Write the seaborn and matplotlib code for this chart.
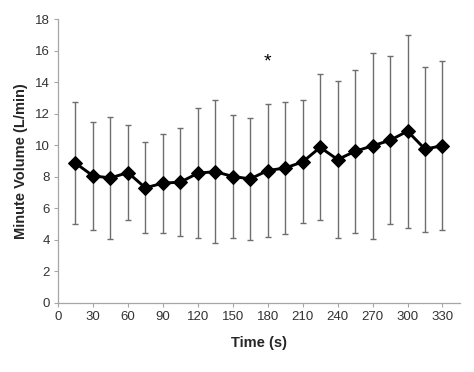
import numpy as np
import pandas as pd
import matplotlib
matplotlib.use("Agg")
import matplotlib.pyplot as plt
import seaborn as sns

# time points (s), mean minute volume and SD
time_s = [15, 30, 45, 60, 75, 90, 105, 120, 135, 150, 165,
          180, 195, 210, 225, 240, 255, 270, 285, 300, 315, 330]
mean_ve = [8.87, 8.06, 7.93, 8.27, 7.30, 7.60, 7.66, 8.23, 8.33, 8.02, 7.87,
           8.40, 8.56, 8.95, 9.87, 9.10, 9.62, 9.97, 10.32, 10.90, 9.76, 9.98]
sd_ve = [3.88, 3.42, 3.86, 3.03, 2.89, 3.14, 3.44, 4.12, 4.54, 3.90, 3.88,
         4.23, 4.20, 3.90, 4.63, 5.00, 5.16, 5.90, 5.33, 6.12, 5.24, 5.36]
x_ticks = list(range(0, 331, 30))
y_ticks = list(range(0, 19, 2))
star_time = 180
star_y = 15.3

ram = pd.DataFrame({"Time": time_s, "VE": mean_ve, "SD": sd_ve})

sns.set_style("white")
plt.rcParams['font.family'] = ['Liberation Sans', 'DejaVu Sans']

fig = plt.figure(figsize=(4.74, 3.72), dpi=100)
ax = fig.add_axes([0.1224, 0.186, 0.848, 0.762])

ax.errorbar(ram["Time"], ram["VE"], yerr=ram["SD"], fmt='none',
            ecolor='#6e6e6e', elinewidth=1.0, capsize=2.2, capthick=1.0, zorder=2)
sns.lineplot(data=ram, x="Time", y="VE", ax=ax, color='black', linewidth=2.1,
             marker='D', markersize=7, markeredgecolor='black', zorder=3)

ax.text(star_time, star_y, '*', ha='center', va='center', fontsize=14, color='black')

ax.set_xlim(0, 345)
ax.set_ylim(0, 18)
ax.set_xticks(x_ticks)
ax.set_yticks(y_ticks)
ax.set_xlabel('Time (s)', fontsize=10.5, fontweight='bold', labelpad=9)
ax.set_ylabel('Minute Volume (L/min)', fontsize=10.5, fontweight='bold', labelpad=5)

for side in ['top', 'right']:
    ax.spines[side].set_visible(False)
for side in ['left', 'bottom']:
    ax.spines[side].set_color('#a6a6a6')
    ax.spines[side].set_linewidth(0.9)
ax.tick_params(axis='both', direction='out', length=3, width=0.8, color='#a6a6a6',
               labelsize=9.5, labelcolor='#333333', pad=3)
ax.tick_params(axis='x', bottom=True)
ax.tick_params(axis='y', left=True)

fig.savefig('out.png', dpi=100)
